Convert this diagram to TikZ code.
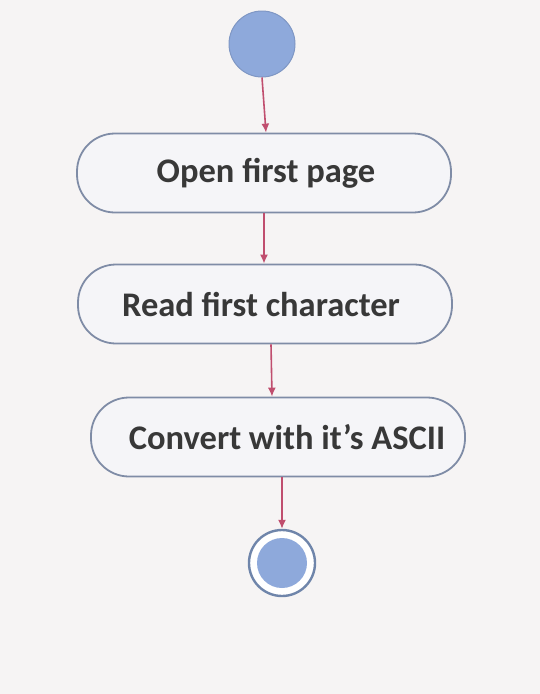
\documentclass[tikz,border=0pt]{standalone}
\usepackage{fontspec}
\setmainfont{Carlito}
\usetikzlibrary{arrows.meta}
\definecolor{bgc}{HTML}{F6F4F4}
\definecolor{blfill}{HTML}{8EA9DB}
\definecolor{blline}{HTML}{7F97C4}
\definecolor{boxline}{HTML}{7F8CA6}
\definecolor{boxfill}{HTML}{F5F5F8}
\definecolor{arrc}{HTML}{C04E6E}
\definecolor{txt}{HTML}{383838}
\definecolor{ringc}{HTML}{6F85AA}
\tikzset{
  startnode/.style={circle, minimum size=66pt, inner sep=0pt, fill=blfill, draw=blline, line width=1pt},
  act/.style={rectangle, rounded corners=38pt, minimum width=374pt, minimum height=79pt, draw=boxline, line width=1.8pt, fill=boxfill, text=txt, font=\fontsize{34.5}{40}\selectfont\bfseries, inner sep=0pt},
  endring/.style={circle, minimum size=66pt, inner sep=0pt, fill=white, draw=ringc, line width=2.4pt},
  endcore/.style={circle, minimum size=50pt, inner sep=0pt, fill=blfill},
  flow/.style={draw=arrc, line width=1.6pt, -{Latex[length=9pt,width=8pt]}}
}
\begin{document}
\begin{tikzpicture}[x=1pt,y=-1pt]
\fill[bgc] (0,0) rectangle (540,694);
\useasboundingbox (0,0) rectangle (540,694);
\node[startnode] (start) at (262,44) {};
\node[act] (a1) at (264,173) {\hspace*{4pt}Open first page};
\node[act] (a2) at (265,304) {Read first character\hspace*{8pt}};
\node[act] (a3) at (278,437) {\hspace*{18pt}Convert with it’s ASCII};
\node[endring] (end) at (282,563) {};
\node[endcore] (endc) at (282,563) {};
\draw[flow] (start.south) -- ([xshift=2pt]a1.north);
\draw[flow] (a1.south) -- ([xshift=-1pt]a2.north);
\draw[flow] ([xshift=6pt]a2.south) -- ([xshift=-6pt]a3.north);
\draw[flow] ([xshift=4pt]a3.south) -- (end.north);
\end{tikzpicture}
\end{document}
